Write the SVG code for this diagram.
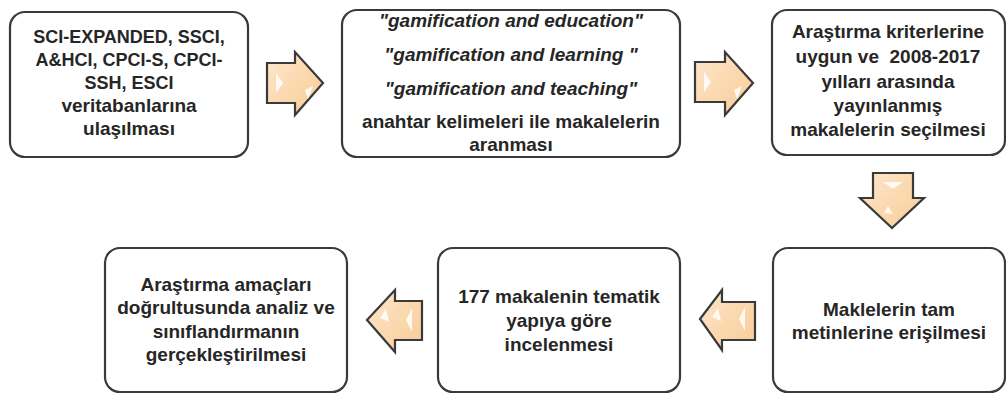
<svg xmlns="http://www.w3.org/2000/svg" width="1006" height="396" viewBox="0 0 1006 396">
<defs>
<linearGradient id="ag" x1="0" y1="0" x2="1" y2="1">
<stop offset="0" stop-color="#fde8cf"/>
<stop offset="0.5" stop-color="#fbd9b0"/>
<stop offset="1" stop-color="#f8cc98"/>
</linearGradient>
<style>
.box{fill:#fff;stroke:#3a3a3a;stroke-width:2.2}
.arr{fill:url(#ag);stroke:#3a3a3a;stroke-width:2.2;stroke-linejoin:miter}
.hl{fill:#fff;opacity:0.85}
text{font-family:"Liberation Sans",Arial,sans-serif;font-weight:bold;font-size:19px;fill:#262626;text-anchor:middle}
.it{font-style:italic}
.sm{font-size:18px}
</style>
</defs>
<g id="connectors">
<path class="arr" d="M267,63 H295 V52 L323,83 L295,115 V103 H267 Z"/>
<path class="hl" d="M276,73 L283,83 L276,93 Z"/>
<path class="hl" d="M305,90 L313,86 L308,99 Z"/>
<path class="arr" d="M695,62 H725 V52 L753,83 L725,115 V102 H695 Z"/>
<path class="hl" d="M704,72 L711,82 L704,92 Z"/>
<path class="hl" d="M734,90 L742,86 L737,99 Z"/>
<path class="arr" d="M873,173 H913 V198 H924 L892,228 L860,198 H873 Z"/>
<path class="hl" d="M883,182 L903,182 L893,189 Z"/>
<path class="hl" d="M888,206 L893,214 L884,213 Z"/>
<path class="arr" d="M367,320 L395,290 V301 H422 V340 H395 V352 Z"/>
<path class="hl" d="M380,318 L386,309 L389,322 Z"/>
<path class="hl" d="M412,308 L406,320 L412,332 Z"/>
<path class="arr" d="M700,319 L722,290 V302 H755 V340 H722 V350 Z"/>
<path class="hl" d="M712,317 L718,308 L721,321 Z"/>
<path class="hl" d="M745,307 L739,319 L745,331 Z"/>
</g>
<g id="node1">
<rect class="box" x="10" y="12" width="238" height="145" rx="15"/>
<text class="sm" x="129" y="43">SCI-EXPANDED, SSCI,</text>
<text class="sm" x="129" y="66">A&amp;HCI, CPCI-S, CPCI-</text>
<text class="sm" x="129" y="89">SSH, ESCI</text>
<text x="129" y="112">veritabanlarına</text>
<text x="129" y="135">ulaşılması</text>
</g>
<g id="node2">
<rect class="box" x="342" y="10" width="338" height="147" rx="15"/>
<text class="it" x="511" y="27">"gamification and education"</text>
<text class="it" x="511" y="61">"gamification and learning "</text>
<text class="it" x="511" y="95">"gamification and teaching"</text>
<text x="511" y="128">anahtar kelimeleri ile makalelerin</text>
<text x="511" y="151">aranması</text>
</g>
<g id="node3">
<rect class="box" x="772" y="10" width="233" height="145" rx="15"/>
<text x="888" y="38">Araştırma kriterlerine</text>
<text x="888" y="63" style="white-space:pre">uygun ve  2008-2017</text>
<text x="888" y="88">yılları arasında</text>
<text x="888" y="112">yayınlanmış</text>
<text x="888" y="136">makalelerin seçilmesi</text>
</g>
<g id="node4">
<rect class="box" x="773" y="248" width="232" height="144" rx="15"/>
<text x="889" y="316">Maklelerin tam</text>
<text x="889" y="339">metinlerine erişilmesi</text>
</g>
<g id="node5">
<rect class="box" x="438" y="248" width="242" height="144" rx="15"/>
<text x="559" y="303">177 makalenin tematik</text>
<text x="559" y="327">yapıya göre</text>
<text x="559" y="351">incelenmesi</text>
</g>
<g id="node6">
<rect class="box" x="105" y="248" width="242" height="144" rx="15"/>
<text x="226" y="291">Araştırma amaçları</text>
<text x="226" y="314">doğrultusunda analiz ve</text>
<text x="226" y="338">sınıflandırmanın</text>
<text x="226" y="361">gerçekleştirilmesi</text>
</g>
</svg>
